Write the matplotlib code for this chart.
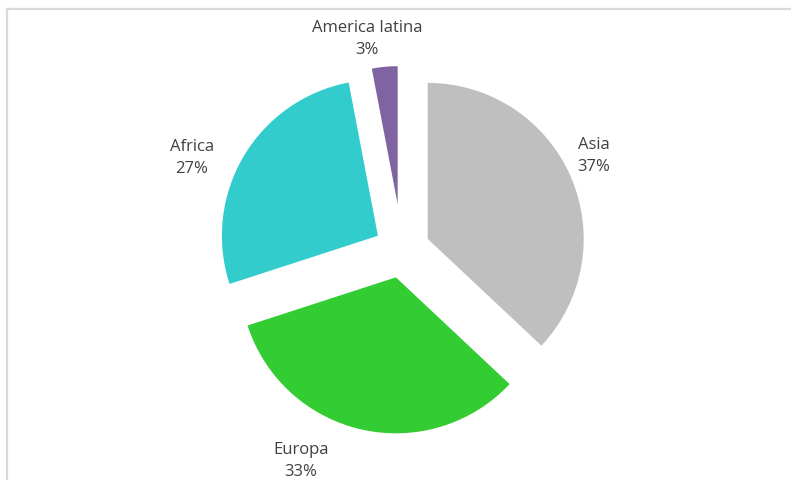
import matplotlib.pyplot as plt
from matplotlib.lines import Line2D

# data
regions = ['Asia', 'Europa', 'Africa', 'America latina']
shares = [37, 33, 27, 3]
colors = ['#BFBFBF', '#33CC33', '#33CCCC', '#8064A2']
explode = [28, 28, 28, 46]  # pixels, the axes are in pixel units

W, H = 791, 481
fig = plt.figure(figsize=(W / 100, H / 100), dpi=100)
ax = fig.add_axes([0, 0, 1, 1])

cx, cy = 402, H - 251
r = 156
wedges, _ = ax.pie(shares, colors=colors, explode=explode, startangle=90,
                   counterclock=False, center=(cx, cy), radius=r,
                   wedgeprops=dict(linewidth=0), frame=True)
# the small slice is drawn a bit shorter in the original
wedges[3].set_radius(138)
ax.set_xlim(0, W)
ax.set_ylim(0, H)
ax.set_aspect('equal')
ax.axis('off')

# label positions (pixel offsets from the pie centre)
label_pos = [(192, 95), (-101, -210), (-210, 93), (-35, 212)]
for name, val, (dx, dy) in zip(regions, shares, label_pos):
    ax.text(cx + dx, cy + dy, f'{name}\n{val}%', ha='center', va='center',
            fontsize=12, family='Open Sans', color='#404040', linespacing=1.5)

# chart frame (top and left edges visible in the crop)
fig.add_artist(Line2D([7 / W, 1], [1 - 10 / H, 1 - 10 / H], color='#D9D9D9', lw=1.6))
fig.add_artist(Line2D([7 / W, 7 / W], [0, 1 - 10 / H], color='#D9D9D9', lw=1.6))

fig.savefig('out.png', dpi=100)
